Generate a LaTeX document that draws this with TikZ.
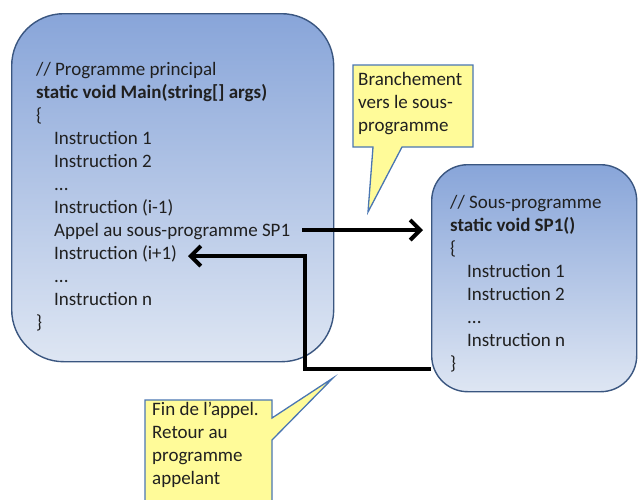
\documentclass[tikz,border=0pt]{standalone}
\usepackage{fontspec}
\setmainfont{Carlito}
\usetikzlibrary{arrows.meta}

\definecolor{boxtop}{RGB}{136,165,217}
\definecolor{boxbottom}{RGB}{222,230,243}
\definecolor{boxedge}{RGB}{58,86,128}
\definecolor{notefill}{RGB}{255,251,153}
\definecolor{noteedge}{RGB}{74,118,178}
\definecolor{codetext}{RGB}{32,32,32}

\begin{document}
\begin{tikzpicture}[x=1pt,y=-1pt,
  codebox/.style={draw=boxedge, line width=1.4pt, top color=boxtop,
    bottom color=boxbottom, anchor=north west, inner sep=0pt},
  codeline/.style={anchor=base west, inner sep=0pt, text=codetext,
    font=\fontsize{19}{23}\selectfont},
  note/.style={draw=noteedge, fill=notefill, line width=1.3pt, line join=miter},
  flow/.style={line width=4pt, -{Straight Barb[length=10pt,width=20pt]}}
]
\clip (0,0) rectangle (638,499);

% main program
\node[codebox, rounded corners=52pt, minimum width=322pt, minimum height=348pt]
  (main) at (11,13) {};
\node[codeline] (m1)  at (36,75)  {// Programme principal};
\node[codeline] (m2)  at (36,98)  {\textbf{static void Main(string[] args)}};
\node[codeline] (m3)  at (36,121) {\{};
\node[codeline] (m4)  at (54,144) {Instruction 1};
\node[codeline] (m5)  at (54,167) {Instruction 2};
\node[codeline] (m6)  at (54,190) {...};
\node[codeline] (m7)  at (54,213) {Instruction (i-1)};
\node[codeline] (m8)  at (54,236) {Appel au sous-programme SP1};
\node[codeline] (m9)  at (54,259) {Instruction (i+1)};
\node[codeline] (m10) at (54,282) {...};
\node[codeline] (m11) at (54,305) {Instruction n};
\node[codeline] (m12) at (36,328) {\}};

% sub-program
\node[codebox, rounded corners=36pt, minimum width=205pt, minimum height=227pt]
  (sub) at (431,164) {};
\node[codeline] (s1) at (450,208) {// Sous-programme};
\node[codeline] (s2) at (450,231) {\textbf{static void SP1()}};
\node[codeline] (s3) at (450,254) {\{};
\node[codeline] (s4) at (467,277) {Instruction 1};
\node[codeline] (s5) at (467,300) {Instruction 2};
\node[codeline] (s6) at (467,323) {...};
\node[codeline] (s7) at (467,346) {Instruction n};
\node[codeline] (s8) at (450,369) {\}};

% call and return
\coordinate (callFrom) at (302,230);
\coordinate (retFrom)  at (431,369);
\coordinate (retBend)  at (305,256);
\coordinate (retTo)    at (188,256);
\draw[flow, shorten >=8pt] (callFrom) -- (callFrom -| sub.west);
\draw[flow] (retFrom) -| (retBend) -- (retTo);

% callouts
\path[note] (353,65) -- (473,65) -- (473,147) -- (402,147) -- (368,212)
  -- (373,147) -- (353,147) -- cycle;
\node[codeline] (b1) at (358,85)  {Branchement};
\node[codeline] (b2) at (358,108) {vers le sous-};
\node[codeline] (b3) at (358,131) {programme};

\path[note] (145,400) -- (272,400) -- (272,418) -- (333,378) -- (272,440)
  -- (272,520) -- (145,520) -- cycle;
\node[codeline] (r1) at (152,415) {Fin de l’appel.};
\node[codeline] (r2) at (152,438) {Retour au};
\node[codeline] (r3) at (152,461) {programme};
\node[codeline] (r4) at (152,484) {appelant};
\end{tikzpicture}
\end{document}
